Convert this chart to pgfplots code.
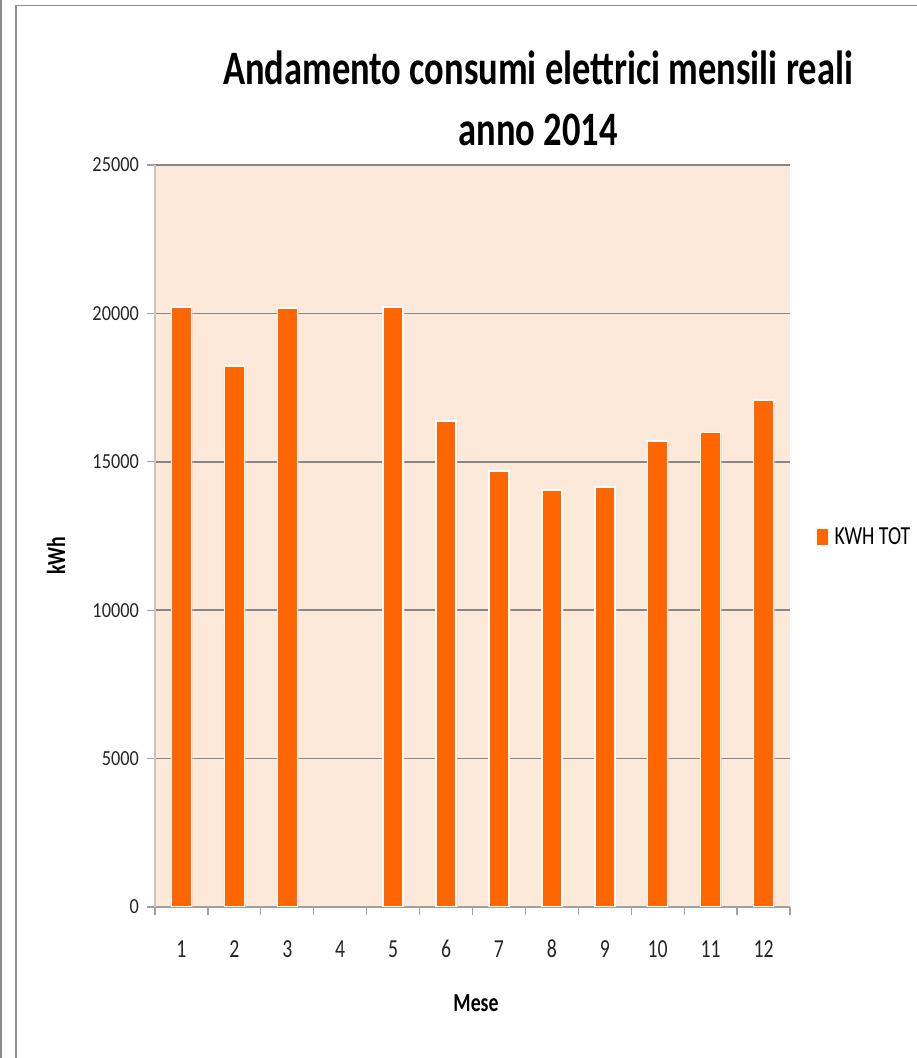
\documentclass[border=0pt]{standalone}
\usepackage{pgfplots}
\pgfplotsset{compat=1.18}
\usetikzlibrary{shadows}
\usepackage{fontspec}
\setmainfont{Carlito}
\newfontfamily\condA{Carlito}[FakeStretch=0.76]
\newfontfamily\condB{Carlito}[FakeStretch=0.85]
\definecolor{barorange}{HTML}{FF6600}
\definecolor{plotbg}{HTML}{FDE9D9}
\definecolor{gridgray}{HTML}{868686}
\definecolor{yaxiscol}{HTML}{D3C2B8}
\definecolor{framecol}{HTML}{8C8C8C}
\definecolor{tickcol}{HTML}{A0A0A0}
\begin{document}
\begin{tikzpicture}[x=1pt,y=1pt]
\path[use as bounding box] (0,0) rectangle (917,1058);
\draw[framecol, line width=1.6pt] (1,0) -- (1,1058);
\draw[framecol, line width=1.6pt] (16,0) -- (16,1052.5) -- (917,1052.5);
\begin{axis}[
  at={(155pt,151pt)}, anchor=south west,
  scale only axis, width=635pt, height=742pt,
  xmin=0.5, xmax=12.5, ymin=0, ymax=25000,
  scaled y ticks=false,
  axis background/.style={fill=plotbg},
  axis x line*=bottom, axis y line*=left,
  x axis line style={draw=tickcol, line width=1.3pt, -},
  y axis line style={draw=yaxiscol, line width=2pt, -},
  xtick={1,2,3,4,5,6,7,8,9,10,11,12},
  xticklabels={1,2,3,4,5,6,7,8,9,10,11,12},
  ytick={0,5000,10000,15000,20000,25000},
  yticklabels={0,5000,10000,15000,20000,25000},
  minor xtick={0.5,1.5,...,12.5},
  minor ytick={0,5000,...,25000},
  major tick length=0pt, minor tick length=8pt,
  tick align=outside,
  every minor tick/.append style={draw=tickcol, line width=1.2pt},
  ymajorgrids,
  major grid style={draw=gridgray, line width=1.6pt},
  xticklabel style={anchor=base, inner sep=0pt, yshift=-51pt, text=black!85, font=\condA\fontsize{26}{30}\selectfont},
  yticklabel style={anchor=east, inner sep=0pt, xshift=-16pt, text=black!85, font=\condB\fontsize{21.5}{25}\selectfont},
  ybar, bar width=20pt,
  legend style={at={(1.0425,0.4987)}, anchor=west, draw=none, fill=none,
    font=\condA\fontsize{26}{30}\selectfont, inner sep=0pt,
    nodes={inner sep=0pt}, column sep=7pt},
  legend image code/.code={\fill[barorange] (0pt,-7pt) rectangle (9pt,7pt);},
]
\addplot[fill=barorange, draw=white, line width=1.5pt,
  drop shadow={shadow xshift=1.5pt, shadow yshift=-1.5pt, opacity=0.18}] coordinates {
  (1,20220) (2,18230) (3,20180) (5,20220) (6,16380) (7,14690)
  (8,14050) (9,14150) (10,15700) (11,15980) (12,17080)
};
\addlegendentry{KWH TOT}
\end{axis}
\node[anchor=base, font=\condA\bfseries\fontsize{48}{58}\selectfont] at (538,973) {Andamento consumi elettrici mensili reali};
\node[anchor=base, font=\condA\bfseries\fontsize{48}{58}\selectfont] at (538,912) {anno 2014};
\node[anchor=base, font=\condA\bfseries\fontsize{26}{30}\selectfont] at (476,46) {Mese};
\node[rotate=90, anchor=center, font=\condA\bfseries\fontsize{26}{30}\selectfont] at (56,502) {kWh};
\end{tikzpicture}
\end{document}
